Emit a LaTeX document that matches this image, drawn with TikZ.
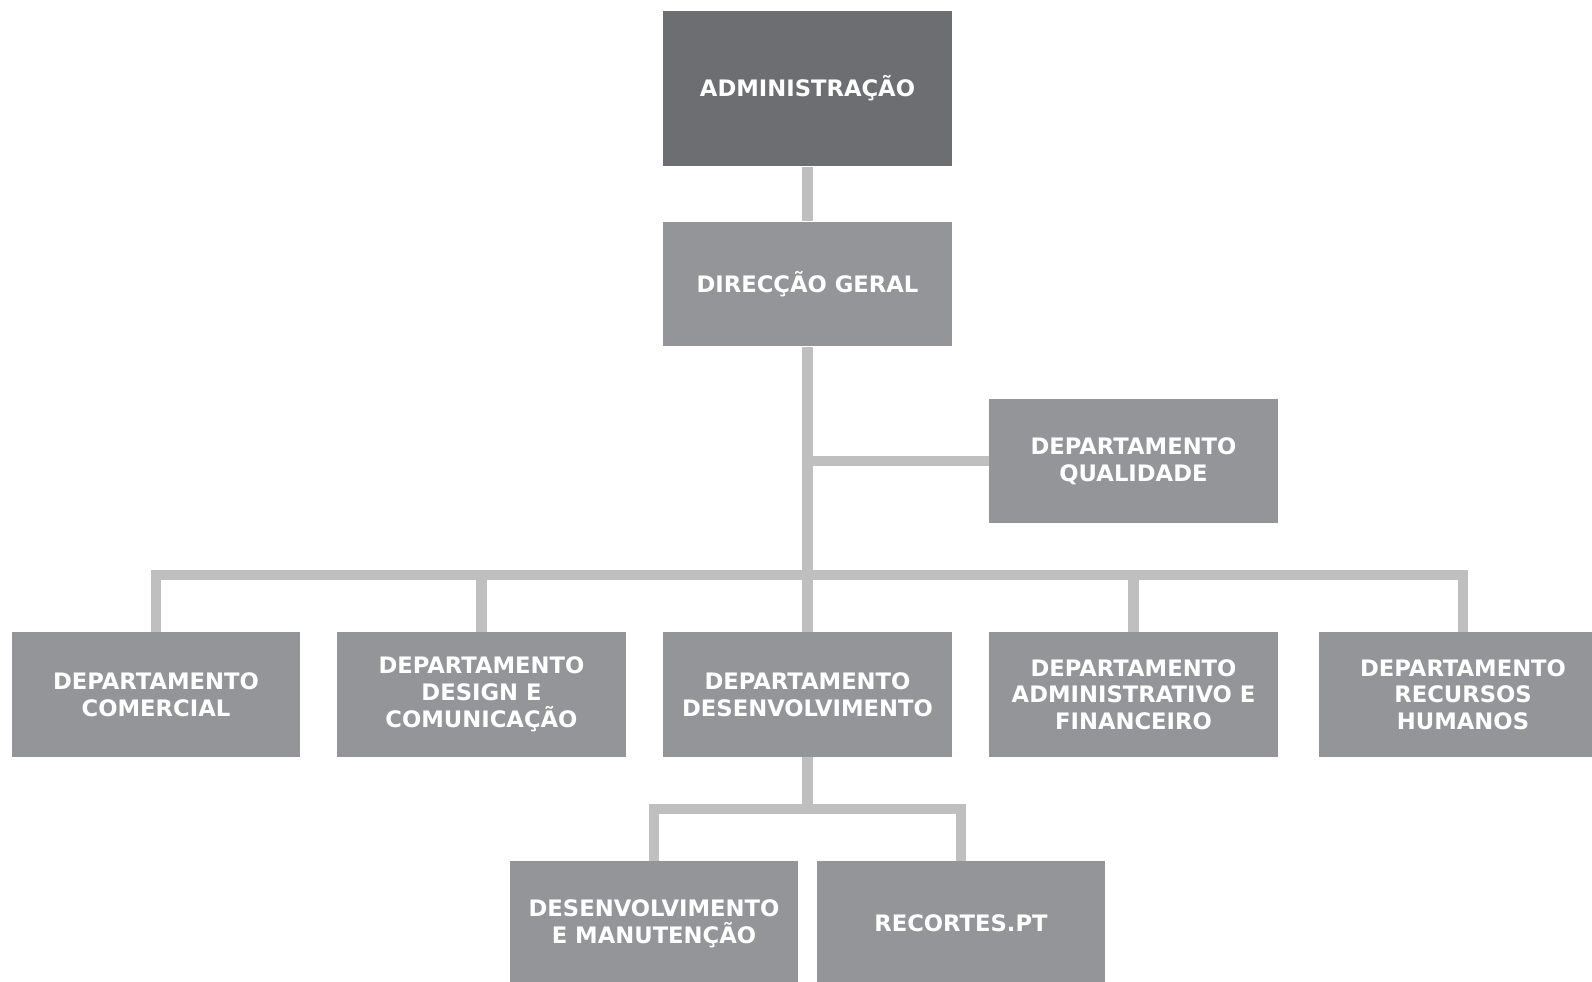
\documentclass[tikz,border=0pt]{standalone}
\usepackage{fontspec}
\setmainfont{DejaVu Sans}
\usepackage{xcolor}
\usepackage{tikz}
\usetikzlibrary{positioning}
\definecolor{topgray}{HTML}{6D6E71}
\definecolor{boxgray}{HTML}{939598}
\definecolor{linkgray}{HTML}{BFBFBF}

\begin{document}
\begin{tikzpicture}[
x=0.01cm, y=-0.01cm,
DeptBox/.style={fill=boxgray,text=white,font=\fontsize{6.45pt}{7.6pt}\selectfont\bfseries,align=center,minimum width=2.88cm,minimum height=1.24cm,inner sep=0pt},
TopBox/.style={DeptBox,fill=topgray,minimum height=1.55cm},
Links/.style={draw=linkgray,line width=2.9pt,line join=miter}
]
\useasboundingbox (0,0) rectangle (1592,981);

% top of the chart
\node[TopBox]  (admin)    at (807.5,88.5) {ADMINISTRAÇÃO};
\node[DeptBox] (dirgeral) at (807.5,284)  {DIRECÇÃO GERAL};
\node[DeptBox] (qual)     at (1133.5,461) {DEPARTAMENTO\\QUALIDADE};

% departments
\node[DeptBox] (comercial) at (156,694.5)    {DEPARTAMENTO\\COMERCIAL};
\node[DeptBox] (design)    at (481.5,694.5)  {DEPARTAMENTO\\DESIGN E\\COMUNICAÇÃO};
\node[DeptBox] (desenv)    at (807.5,694.5)  {DEPARTAMENTO\\DESENVOLVIMENTO};
\node[DeptBox] (adminfin)  at (1133.5,694.5) {DEPARTAMENTO\\ADMINISTRATIVO E\\FINANCEIRO};
\node[DeptBox] (rh)        at (1463,694.5)   {DEPARTAMENTO\\RECURSOS\\HUMANOS};

% under desenvolvimento
\node[DeptBox] (manut)    at (654,923.5) {DESENVOLVIMENTO\\E MANUTENÇÃO};
\node[DeptBox] (recortes) at (961,923.5) {RECORTES.PT};

\coordinate (bus) at (807.5,575);
\coordinate (subbus) at (807.5,809);

\draw[Links] (admin) -- (dirgeral);
\draw[Links] (dirgeral) -- (desenv);
\draw[Links] (qual.west) -- (qual.west -| dirgeral.south);
\draw[Links] (comercial.north) |- (bus) -| (rh.north);
\draw[Links] (design.north) -- (design.north |- bus);
\draw[Links] (adminfin.north) -- (adminfin.north |- bus);

\draw[Links] (desenv) -- (subbus);
\draw[Links] (manut.north) |- (subbus) -| (recortes.north);

\end{tikzpicture}
\end{document}
